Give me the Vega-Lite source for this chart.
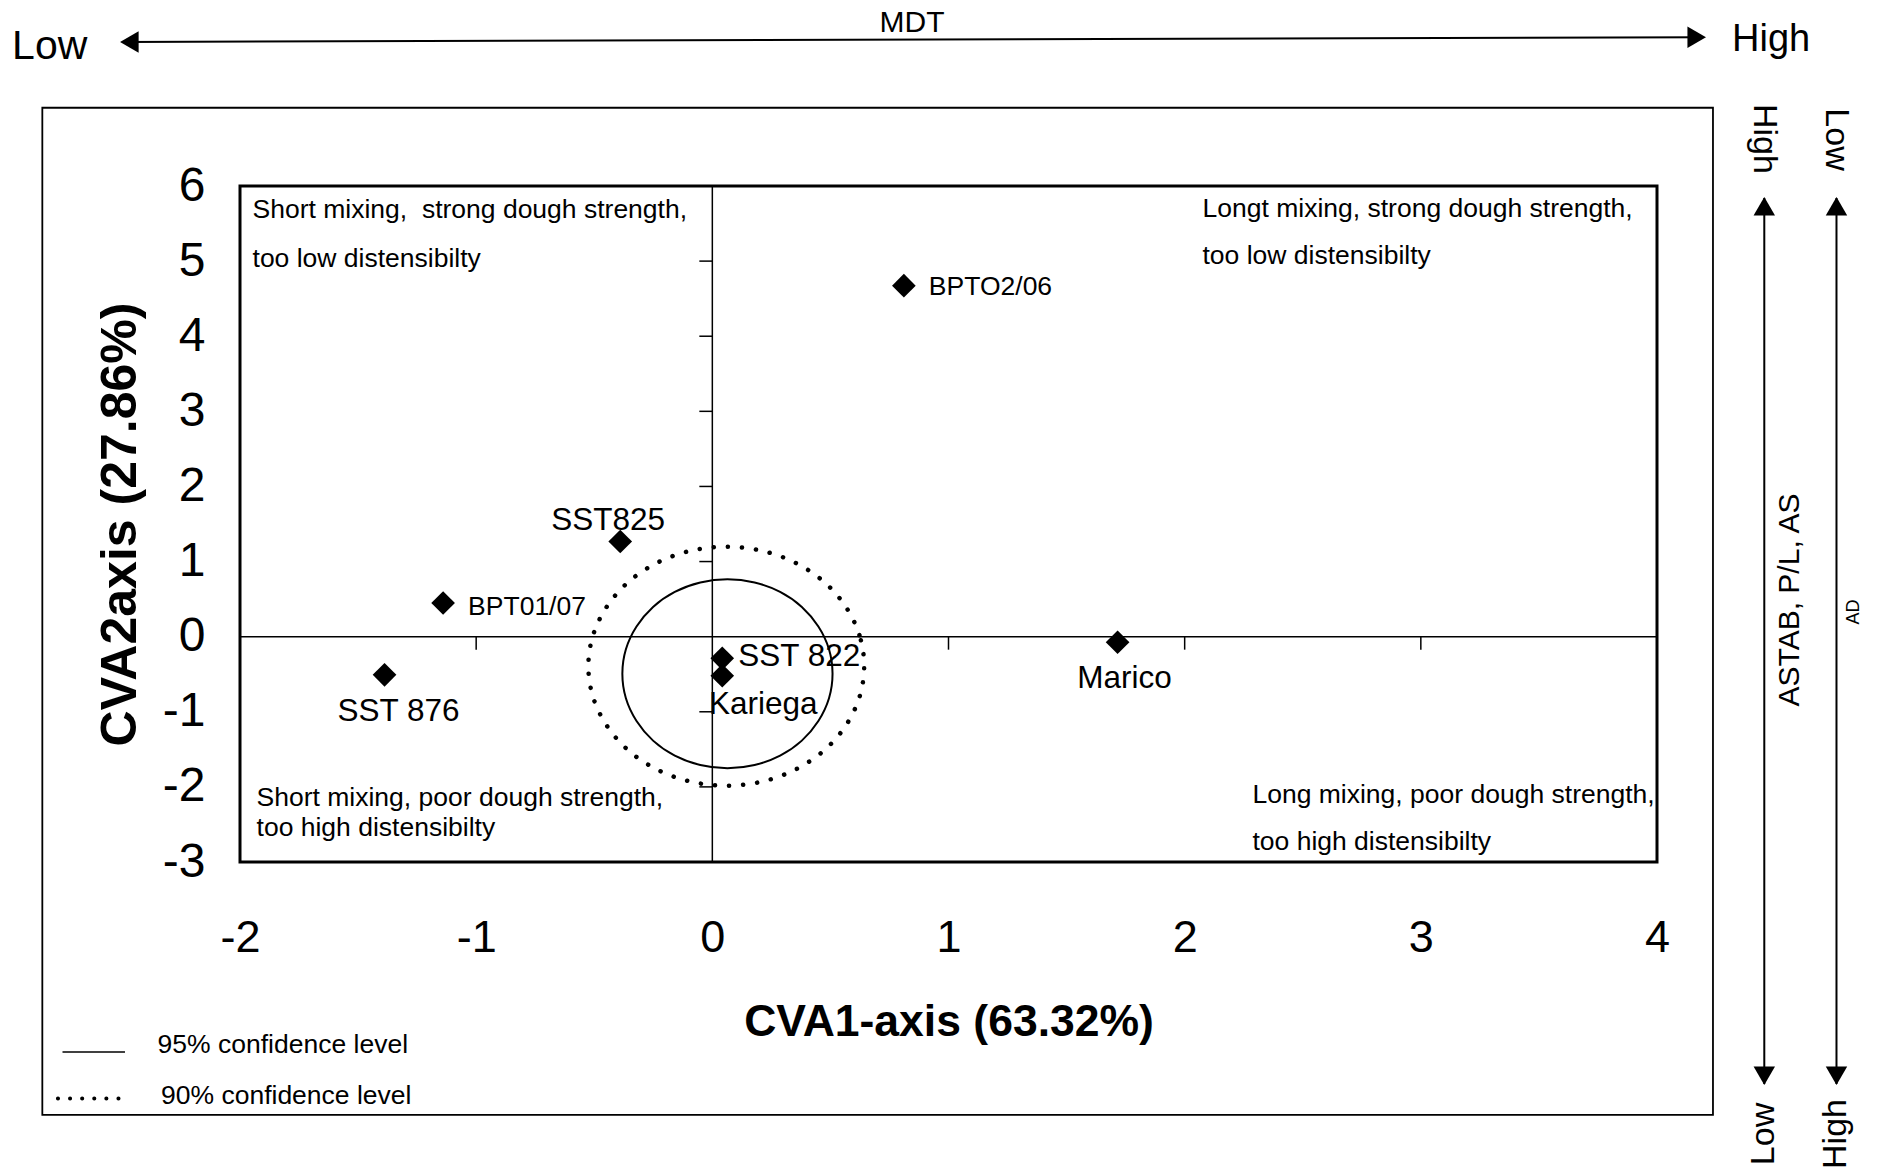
{
  "$schema": "https://vega.github.io/schema/vega-lite/v6.json",
  "width": 1417,
  "height": 676,
  "autosize": {"type": "none"},
  "padding": {"left": 240, "top": 186, "right": 225, "bottom": 312},
  "background": "white",
  "config": {
    "view": {"stroke": "black", "strokeWidth": 3},
    "font": "Liberation Sans",
    "axis": {"grid": false, "domain": false, "ticks": false, "tickSize": 0, "labelColor": "black", "titleColor": "black", "labelFont": "Liberation Sans", "titleFont": "Liberation Sans", "labelFlush": false, "labelOverlap": false},
    "text": {"font": "Liberation Sans", "color": "black"}
  },
  "datasets": {
    "pts": [
      {"name": "BPTO2/06", "x": 0.811, "y": 4.673},
      {"name": "SST825", "x": -0.39, "y": 1.267},
      {"name": "BPT01/07", "x": -1.14, "y": 0.448},
      {"name": "SST 876", "x": -1.388, "y": -0.508},
      {"name": "SST 822", "x": 0.042, "y": -0.288},
      {"name": "Kariega", "x": 0.042, "y": -0.52},
      {"name": "Marico", "x": 1.716, "y": -0.074}
    ],
    "ell": [
      {"e": "95", "i": 0, "x": 0.509, "y": -0.494},
      {"e": "95", "i": 1, "x": 0.494, "y": -0.168},
      {"e": "95", "i": 2, "x": 0.449, "y": 0.135},
      {"e": "95", "i": 3, "x": 0.379, "y": 0.396},
      {"e": "95", "i": 4, "x": 0.287, "y": 0.596},
      {"e": "95", "i": 5, "x": 0.179, "y": 0.721},
      {"e": "95", "i": 6, "x": 0.064, "y": 0.764},
      {"e": "95", "i": 7, "x": -0.051, "y": 0.721},
      {"e": "95", "i": 8, "x": -0.159, "y": 0.596},
      {"e": "95", "i": 9, "x": -0.251, "y": 0.396},
      {"e": "95", "i": 10, "x": -0.321, "y": 0.135},
      {"e": "95", "i": 11, "x": -0.366, "y": -0.168},
      {"e": "95", "i": 12, "x": -0.381, "y": -0.494},
      {"e": "95", "i": 13, "x": -0.366, "y": -0.82},
      {"e": "95", "i": 14, "x": -0.321, "y": -1.123},
      {"e": "95", "i": 15, "x": -0.251, "y": -1.384},
      {"e": "95", "i": 16, "x": -0.159, "y": -1.584},
      {"e": "95", "i": 17, "x": -0.051, "y": -1.709},
      {"e": "95", "i": 18, "x": 0.064, "y": -1.752},
      {"e": "95", "i": 19, "x": 0.179, "y": -1.709},
      {"e": "95", "i": 20, "x": 0.287, "y": -1.584},
      {"e": "95", "i": 21, "x": 0.379, "y": -1.384},
      {"e": "95", "i": 22, "x": 0.449, "y": -1.123},
      {"e": "95", "i": 23, "x": 0.494, "y": -0.82},
      {"e": "90", "i": 0, "x": 0.643, "y": -0.393},
      {"e": "90", "i": 1, "x": 0.623, "y": 0.019},
      {"e": "90", "i": 2, "x": 0.564, "y": 0.403},
      {"e": "90", "i": 3, "x": 0.472, "y": 0.732},
      {"e": "90", "i": 4, "x": 0.351, "y": 0.985},
      {"e": "90", "i": 5, "x": 0.21, "y": 1.144},
      {"e": "90", "i": 6, "x": 0.059, "y": 1.198},
      {"e": "90", "i": 7, "x": -0.092, "y": 1.144},
      {"e": "90", "i": 8, "x": -0.233, "y": 0.985},
      {"e": "90", "i": 9, "x": -0.354, "y": 0.732},
      {"e": "90", "i": 10, "x": -0.446, "y": 0.403},
      {"e": "90", "i": 11, "x": -0.505, "y": 0.019},
      {"e": "90", "i": 12, "x": -0.525, "y": -0.393},
      {"e": "90", "i": 13, "x": -0.505, "y": -0.805},
      {"e": "90", "i": 14, "x": -0.446, "y": -1.189},
      {"e": "90", "i": 15, "x": -0.354, "y": -1.518},
      {"e": "90", "i": 16, "x": -0.233, "y": -1.771},
      {"e": "90", "i": 17, "x": -0.092, "y": -1.93},
      {"e": "90", "i": 18, "x": 0.059, "y": -1.984},
      {"e": "90", "i": 19, "x": 0.21, "y": -1.93},
      {"e": "90", "i": 20, "x": 0.351, "y": -1.771},
      {"e": "90", "i": 21, "x": 0.472, "y": -1.518},
      {"e": "90", "i": 22, "x": 0.564, "y": -1.189},
      {"e": "90", "i": 23, "x": 0.623, "y": -0.805}
    ],
    "yt": [{"v": -2}, {"v": -1}, {"v": 1}, {"v": 2}, {"v": 3}, {"v": 4}, {"v": 5}],
    "xt": [{"v": -1}, {"v": 1}, {"v": 2}, {"v": 3}]
  },
  "layer": [
    {
      "data": {"name": "pts"},
      "mark": {"type": "point", "shape": "diamond", "filled": true, "color": "black", "size": 560, "opacity": 1, "strokeWidth": 0},
      "encoding": {
        "x": {"field": "x", "type": "quantitative", "scale": {"domain": [-2, 4], "nice": false, "zero": false},
          "axis": {"title": "CVA1-axis (63.32%)", "values": [-2, -1, 0, 1, 2, 3, 4], "labelExpr": "'' + datum.value", "labelFontSize": 45, "labelPadding": 53, "titleFontSize": 44.5, "titleFont": "Liberation Sans", "titleFontWeight": "bold", "titlePadding": 40}},
        "y": {"field": "y", "type": "quantitative", "scale": {"domain": [-3, 6], "nice": false, "zero": false},
          "axis": {"title": "CVA2axis (27.86%)", "values": [-3, -2, -1, 0, 1, 2, 3, 4, 5, 6], "labelExpr": "'' + datum.value", "labelFontSize": 48, "labelPadding": 35, "titleFontSize": 50, "titleFontWeight": "bold", "titlePadding": 17}}
      }
    },
    {
      "data": {"values": [{}]},
      "mark": {"type": "rule", "color": "black", "strokeWidth": 1.5},
      "encoding": {"x": {"datum": 0, "type": "quantitative"}}
    },
    {
      "data": {"values": [{}]},
      "mark": {"type": "rule", "color": "black", "strokeWidth": 1.5},
      "encoding": {"y": {"datum": 0, "type": "quantitative"}}
    },
    {
      "data": {"name": "yt"},
      "mark": {"type": "tick", "orient": "horizontal", "size": 13, "thickness": 1.5, "xOffset": -6.5, "color": "black", "opacity": 1},
      "encoding": {"x": {"datum": 0, "type": "quantitative"}, "y": {"field": "v", "type": "quantitative"}}
    },
    {
      "data": {"name": "xt"},
      "mark": {"type": "tick", "orient": "vertical", "size": 13, "thickness": 1.5, "yOffset": 6.5, "color": "black", "opacity": 1},
      "encoding": {"x": {"field": "v", "type": "quantitative"}, "y": {"datum": 0, "type": "quantitative"}}
    },
    {
      "data": {"name": "ell"},
      "transform": [{"filter": "datum.e === '95'"}],
      "mark": {"type": "line", "interpolate": "cardinal-closed", "color": "black", "strokeWidth": 2},
      "encoding": {"x": {"field": "x", "type": "quantitative"}, "y": {"field": "y", "type": "quantitative"}, "order": {"field": "i", "type": "quantitative"}}
    },
    {
      "data": {"name": "ell"},
      "transform": [{"filter": "datum.e === '90'"}],
      "mark": {"type": "line", "interpolate": "cardinal-closed", "color": "black", "strokeWidth": 4.5, "strokeDash": [0.1, 14], "strokeCap": "round"},
      "encoding": {"x": {"field": "x", "type": "quantitative"}, "y": {"field": "y", "type": "quantitative"}, "order": {"field": "i", "type": "quantitative"}}
    },
    {
      "data": {"name": "pts"},
      "transform": [{"filter": "datum.name === 'BPTO2/06'"}],
      "mark": {"type": "text", "align": "left", "baseline": "middle", "dx": 25, "dy": 1.5, "fontSize": 26.5},
      "encoding": {"x": {"field": "x", "type": "quantitative"}, "y": {"field": "y", "type": "quantitative"}, "text": {"field": "name"}}
    },
    {
      "data": {"name": "pts"},
      "transform": [{"filter": "datum.name === 'BPT01/07'"}],
      "mark": {"type": "text", "align": "left", "baseline": "middle", "dx": 25, "dy": 4, "fontSize": 26.5},
      "encoding": {"x": {"field": "x", "type": "quantitative"}, "y": {"field": "y", "type": "quantitative"}, "text": {"field": "name"}}
    },
    {
      "data": {"name": "pts"},
      "transform": [{"filter": "datum.name === 'SST825'"}],
      "mark": {"type": "text", "align": "center", "baseline": "middle", "dx": -12, "dy": -21, "fontSize": 31.5},
      "encoding": {"x": {"field": "x", "type": "quantitative"}, "y": {"field": "y", "type": "quantitative"}, "text": {"field": "name"}}
    },
    {
      "data": {"name": "pts"},
      "transform": [{"filter": "datum.name === 'SST 876'"}],
      "mark": {"type": "text", "align": "center", "baseline": "middle", "dx": 14, "dy": 37.5, "fontSize": 31.5},
      "encoding": {"x": {"field": "x", "type": "quantitative"}, "y": {"field": "y", "type": "quantitative"}, "text": {"field": "name"}}
    },
    {
      "data": {"name": "pts"},
      "transform": [{"filter": "datum.name === 'SST 822'"}],
      "mark": {"type": "text", "align": "left", "baseline": "middle", "dx": 16, "dy": -1.5, "fontSize": 31.5},
      "encoding": {"x": {"field": "x", "type": "quantitative"}, "y": {"field": "y", "type": "quantitative"}, "text": {"field": "name"}}
    },
    {
      "data": {"name": "pts"},
      "transform": [{"filter": "datum.name === 'Kariega'"}],
      "mark": {"type": "text", "align": "center", "baseline": "middle", "dx": 41, "dy": 29, "fontSize": 31.5},
      "encoding": {"x": {"field": "x", "type": "quantitative"}, "y": {"field": "y", "type": "quantitative"}, "text": {"field": "name"}}
    },
    {
      "data": {"name": "pts"},
      "transform": [{"filter": "datum.name === 'Marico'"}],
      "mark": {"type": "text", "align": "center", "baseline": "middle", "dx": 7, "dy": 36.5, "fontSize": 31.5},
      "encoding": {"x": {"field": "x", "type": "quantitative"}, "y": {"field": "y", "type": "quantitative"}, "text": {"field": "name"}}
    },
    {
      "data": {"values": [{}]},
      "mark": {"type": "text", "text": ["Short mixing,\u00a0 strong dough strength,", "too low distensibilty"], "lineHeight": 48.5, "align": "left", "baseline": "middle", "fontSize": 26.5},
      "encoding": {"x": {"datum": -1.947, "type": "quantitative"}, "y": {"datum": 5.674, "type": "quantitative"}}
    },
    {
      "data": {"values": [{}]},
      "mark": {"type": "text", "text": ["Longt mixing, strong dough strength,", "too low distensibilty"], "lineHeight": 47, "align": "left", "baseline": "middle", "fontSize": 26.5},
      "encoding": {"x": {"datum": 2.0755, "type": "quantitative"}, "y": {"datum": 5.692, "type": "quantitative"}}
    },
    {
      "data": {"values": [{}]},
      "mark": {"type": "text", "text": ["Short mixing, poor dough strength,", "too high distensibilty"], "lineHeight": 29.5, "align": "left", "baseline": "middle", "fontSize": 26.5},
      "encoding": {"x": {"datum": -1.93, "type": "quantitative"}, "y": {"datum": -2.148, "type": "quantitative"}}
    },
    {
      "data": {"values": [{}]},
      "mark": {"type": "text", "text": ["Long mixing, poor dough strength,", "too high distensibilty"], "lineHeight": 47, "align": "left", "baseline": "middle", "fontSize": 26.5},
      "encoding": {"x": {"datum": 2.287, "type": "quantitative"}, "y": {"datum": -2.107, "type": "quantitative"}}
    },
    {
      "data": {"values": [{}]},
      "mark": {"type": "rect", "filled": false, "stroke": "black", "strokeWidth": 1.8},
      "encoding": {"x": {"datum": -2.837, "type": "quantitative"}, "x2": {"datum": 4.237}, "y": {"datum": 7.042, "type": "quantitative"}, "y2": {"datum": -6.368}}
    },
    {
      "data": {"values": [{}]},
      "mark": {"type": "rule", "color": "black", "strokeWidth": 2},
      "encoding": {"x": {"datum": -2.49, "type": "quantitative"}, "x2": {"datum": 4.19}, "y": {"datum": 7.917, "type": "quantitative"}, "y2": {"datum": 7.98}}
    },
    {
      "data": {"values": [{}]},
      "mark": {"type": "point", "shape": "triangle-left", "filled": true, "color": "black", "opacity": 1, "size": 460, "xOffset": 9.3},
      "encoding": {"x": {"datum": -2.508, "type": "quantitative"}, "y": {"datum": 7.917, "type": "quantitative"}}
    },
    {
      "data": {"values": [{}]},
      "mark": {"type": "point", "shape": "triangle-right", "filled": true, "color": "black", "opacity": 1, "size": 460, "xOffset": -9.3},
      "encoding": {"x": {"datum": 4.2075, "type": "quantitative"}, "y": {"datum": 7.98, "type": "quantitative"}}
    },
    {
      "data": {"values": [{}]},
      "mark": {"type": "text", "text": "MDT", "align": "center", "baseline": "middle", "fontSize": 30},
      "encoding": {"x": {"datum": 0.8455, "type": "quantitative"}, "y": {"datum": 8.17, "type": "quantitative"}}
    },
    {
      "data": {"values": [{}]},
      "mark": {"type": "text", "text": "Low", "align": "left", "baseline": "middle", "fontSize": 41},
      "encoding": {"x": {"datum": -2.965, "type": "quantitative"}, "y": {"datum": 7.857, "type": "quantitative"}}
    },
    {
      "data": {"values": [{}]},
      "mark": {"type": "text", "text": "High", "align": "left", "baseline": "middle", "fontSize": 38},
      "encoding": {"x": {"datum": 4.318, "type": "quantitative"}, "y": {"datum": 7.944, "type": "quantitative"}}
    },
    {
      "data": {"values": [{}]},
      "mark": {"type": "rule", "color": "black", "strokeWidth": 2},
      "encoding": {"x": {"datum": 4.4543, "type": "quantitative"}, "y": {"datum": 5.84, "type": "quantitative"}, "y2": {"datum": -5.955}}
    },
    {
      "data": {"values": [{}]},
      "mark": {"type": "rule", "color": "black", "strokeWidth": 2},
      "encoding": {"x": {"datum": 4.76, "type": "quantitative"}, "y": {"datum": 5.84, "type": "quantitative"}, "y2": {"datum": -5.955}}
    },
    {
      "data": {"values": [{}]},
      "mark": {"type": "point", "shape": "triangle-up", "filled": true, "color": "black", "opacity": 1, "size": 460, "yOffset": 9.3},
      "encoding": {"x": {"datum": 4.4543, "type": "quantitative"}, "y": {"datum": 5.854, "type": "quantitative"}}
    },
    {
      "data": {"values": [{}]},
      "mark": {"type": "point", "shape": "triangle-up", "filled": true, "color": "black", "opacity": 1, "size": 460, "yOffset": 9.3},
      "encoding": {"x": {"datum": 4.76, "type": "quantitative"}, "y": {"datum": 5.854, "type": "quantitative"}}
    },
    {
      "data": {"values": [{}]},
      "mark": {"type": "point", "shape": "triangle-down", "filled": true, "color": "black", "opacity": 1, "size": 460, "yOffset": -9.3},
      "encoding": {"x": {"datum": 4.4543, "type": "quantitative"}, "y": {"datum": -5.969, "type": "quantitative"}}
    },
    {
      "data": {"values": [{}]},
      "mark": {"type": "point", "shape": "triangle-down", "filled": true, "color": "black", "opacity": 1, "size": 460, "yOffset": -9.3},
      "encoding": {"x": {"datum": 4.76, "type": "quantitative"}, "y": {"datum": -5.969, "type": "quantitative"}}
    },
    {
      "data": {"values": [{}]},
      "mark": {"type": "text", "text": "High", "angle": 90, "align": "center", "baseline": "middle", "fontSize": 34},
      "encoding": {"x": {"datum": 4.4543, "type": "quantitative"}, "y": {"datum": 6.626, "type": "quantitative"}}
    },
    {
      "data": {"values": [{}]},
      "mark": {"type": "text", "text": "Low", "angle": 90, "align": "center", "baseline": "middle", "fontSize": 34},
      "encoding": {"x": {"datum": 4.76, "type": "quantitative"}, "y": {"datum": 6.619, "type": "quantitative"}}
    },
    {
      "data": {"values": [{}]},
      "mark": {"type": "text", "text": "Low", "angle": 270, "align": "center", "baseline": "middle", "fontSize": 34},
      "encoding": {"x": {"datum": 4.4543, "type": "quantitative"}, "y": {"datum": -6.621, "type": "quantitative"}}
    },
    {
      "data": {"values": [{}]},
      "mark": {"type": "text", "text": "High", "angle": 270, "align": "center", "baseline": "middle", "fontSize": 34},
      "encoding": {"x": {"datum": 4.76, "type": "quantitative"}, "y": {"datum": -6.621, "type": "quantitative"}}
    },
    {
      "data": {"values": [{}]},
      "mark": {"type": "text", "text": "ASTAB, P/L, AS", "angle": 270, "align": "center", "baseline": "middle", "fontSize": 30},
      "encoding": {"x": {"datum": 4.563, "type": "quantitative"}, "y": {"datum": 0.488, "type": "quantitative"}}
    },
    {
      "data": {"values": [{}]},
      "mark": {"type": "text", "text": "AD", "angle": 270, "align": "center", "baseline": "middle", "fontSize": 18},
      "encoding": {"x": {"datum": 4.834, "type": "quantitative"}, "y": {"datum": 0.328, "type": "quantitative"}}
    },
    {
      "data": {"values": [{}]},
      "mark": {"type": "rule", "color": "black", "strokeWidth": 1.5},
      "encoding": {"x": {"datum": -2.7516, "type": "quantitative"}, "x2": {"datum": -2.487}, "y": {"datum": -5.53, "type": "quantitative"}}
    },
    {
      "data": {"values": [{}]},
      "mark": {"type": "rule", "color": "black", "strokeWidth": 4, "strokeDash": [0.1, 12], "strokeCap": "round"},
      "encoding": {"x": {"datum": -2.771, "type": "quantitative"}, "x2": {"datum": -2.512}, "y": {"datum": -6.149, "type": "quantitative"}}
    },
    {
      "data": {"values": [{}]},
      "mark": {"type": "text", "text": "95% confidence level", "align": "left", "baseline": "middle", "fontSize": 26.5},
      "encoding": {"x": {"datum": -2.349, "type": "quantitative"}, "y": {"datum": -5.43, "type": "quantitative"}}
    },
    {
      "data": {"values": [{}]},
      "mark": {"type": "text", "text": "90% confidence level", "align": "left", "baseline": "middle", "fontSize": 26.5},
      "encoding": {"x": {"datum": -2.3345, "type": "quantitative"}, "y": {"datum": -6.115, "type": "quantitative"}}
    }
  ]
}
